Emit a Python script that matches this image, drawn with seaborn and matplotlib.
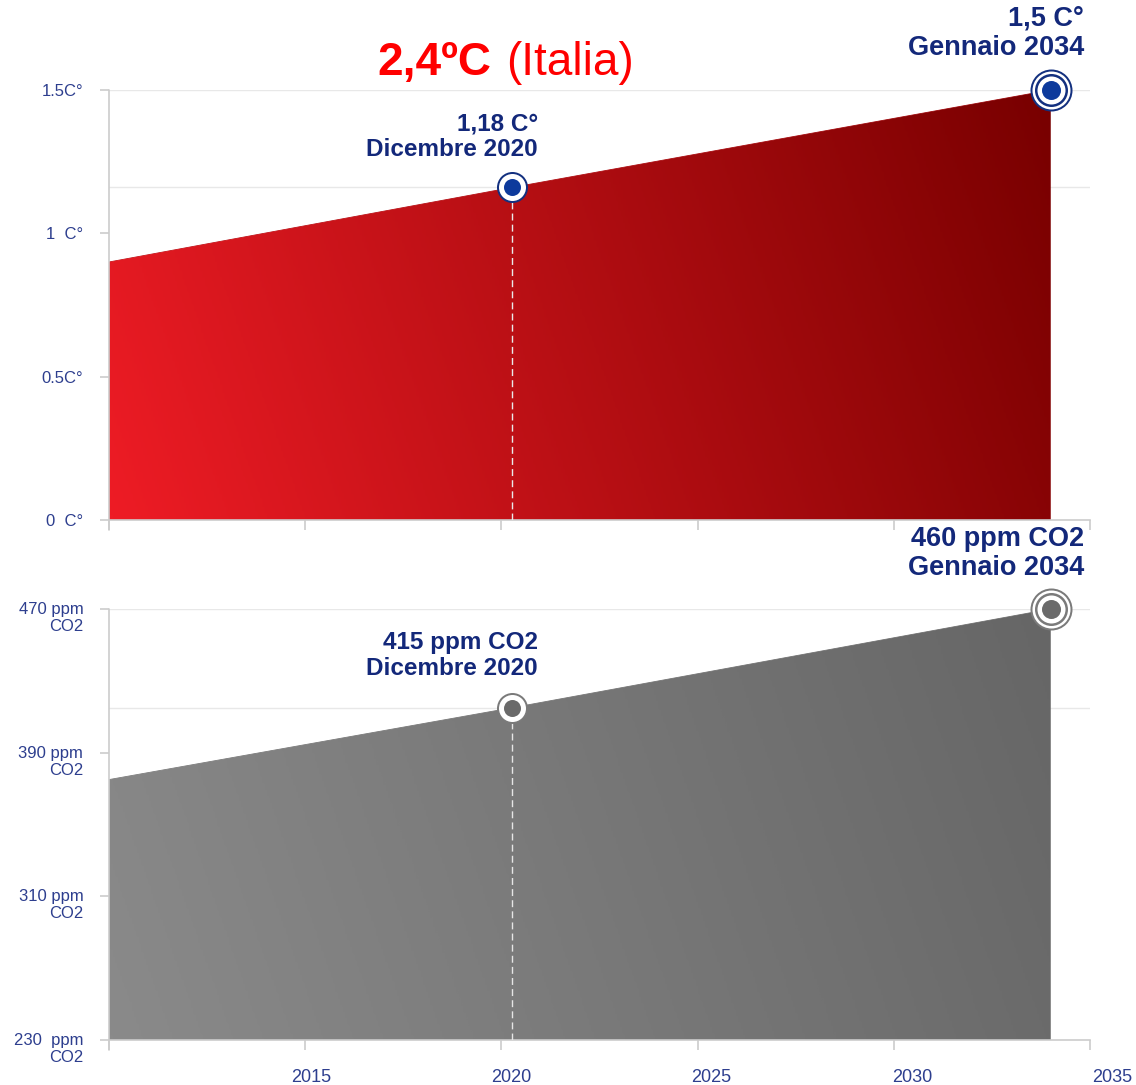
import numpy as np
import pandas as pd
import matplotlib
matplotlib.use("Agg")
import matplotlib.pyplot as plt
import seaborn as sns
from matplotlib.colors import LinearSegmentedColormap
from matplotlib.transforms import ScaledTranslation
from matplotlib.lines import Line2D

# ---------------- data ----------------
years = [2010.0, 2020.27, 2034.0]
temp_values = [0.90, 1.16, 1.50]
co2_values = [375, 415, 470]
temp_labels = ["1,18 C°\nDicembre 2020", "1,5 C°\nGennaio 2034"]
co2_labels = ["415 ppm CO2\nDicembre 2020", "460 ppm CO2\nGennaio 2034"]
temp_ticks = [0, 0.5, 1.0, 1.5]
temp_ticklabels = ["0  C°", "0.5C°", "1  C°", "1.5C°"]
co2_ticks = [230, 310, 390, 470]
co2_ticklabels = ["230  ppm\nCO2", "310 ppm\nCO2", "390 ppm\nCO2", "470 ppm\nCO2"]
year_ticks = [2010, 2015, 2020, 2025, 2030, 2035]
year_ticklabels = ["", "2015", "2020", "2025", "2030", "2035"]
title_bold = "2,4ºC"
title_regular = "(Italia)"

# ---------------- style ----------------
sns.set_theme(style="white")
plt.rcParams['font.family'] = ['Liberation Sans', 'DejaVu Sans']

NAVY = '#13287a'
LABEL = '#2d3e8e'
AXC = '#cccccc'

W, H = 1136, 1085
fig = plt.figure(figsize=(W / 100, H / 100), dpi=100)
fig.patch.set_facecolor('white')

ax_t = fig.add_axes([109 / W, 1 - 520 / H, 981 / W, 430 / H])
ax_b = fig.add_axes([109 / W, 1 - 1040 / H, 981 / W, 431 / H])


def px_offset(dx_px, dy_px):
    return ScaledTranslation(dx_px / 100, dy_px / 100, fig.dpi_scale_trans)


def draw_panel(ax, values, ylim, ticks, ticklabels, c_start, c_end, edge_col,
               ring_col, dot_col, labels, label_sizes, offsets, dash_col,
               show_xlabels, multiline):
    df = pd.DataFrame({'year': years, 'value': values})
    ax.set_xlim(2010, 2035)
    ax.set_ylim(*ylim)

    # horizontal reference lines at highlighted values
    for v in values[1:]:
        ax.axhline(v, color='#e8e8e8', lw=1, zorder=0)

    # area with gradient
    poly = ax.fill_between(df['year'], df['value'], ylim[0], color='none', lw=0, zorder=1)
    clip_path = poly.get_paths()[0]
    nx, ny = 400, 200
    u = np.linspace(0, 1, nx)[None, :]
    v = np.linspace(0, 1, ny)[:, None]
    t = (u * 941 + 0.35 * v * 430) / (941 + 0.35 * 430)
    cmap = LinearSegmentedColormap.from_list('g', [c_start, c_end])
    im = ax.imshow(t, cmap=cmap, vmin=0, vmax=1, origin='lower', aspect='auto',
                   extent=[df['year'].iloc[0], df['year'].iloc[-1], ylim[0], ylim[1]],
                   interpolation='bilinear', zorder=2)
    im.set_clip_path(clip_path, ax.transData)

    sns.lineplot(data=df, x='year', y='value', ax=ax, color=edge_col, lw=0.6,
                 zorder=1.5, legend=False)
    ax.set_xlim(2010, 2035)
    ax.set_ylim(*ylim)
    ax.set_xlabel('')
    ax.set_ylabel('')

    # dashed drop line
    ax.plot([df['year'].iloc[1]] * 2, [ylim[0], df['value'].iloc[1]],
            ls=(0, (5, 3)), color=dash_col, lw=1, zorder=4)

    # markers
    k = 1 / 1.3889
    x1, y1 = df['year'].iloc[1], df['value'].iloc[1]
    for d, c in [(31, ring_col), (27, 'white'), (17, dot_col)]:
        ax.scatter([x1], [y1], s=(d * k) ** 2, color=c, lw=0, zorder=5, clip_on=False)
    x2, y2 = df['year'].iloc[2], df['value'].iloc[2]
    for d, c in [(42, ring_col), (38, 'white'), (33, ring_col), (28, 'white'), (19, dot_col)]:
        ax.scatter([x2], [y2], s=(d * k) ** 2, color=c, lw=0, zorder=5, clip_on=False)

    # annotations (offset = last-line baseline above the point)
    for (xx, yy), lab, fs, (dx, dy) in zip([(x1, y1), (x2, y2)], labels, label_sizes, offsets):
        ax.annotate(lab, xy=(xx, yy), xytext=(dx, dy), textcoords='offset pixels',
                    ha='right', va='baseline', fontsize=fs, fontweight='bold',
                    color=NAVY, linespacing=1.15, annotation_clip=False)

    # spines
    for s in ['top', 'right', 'left']:
        ax.spines[s].set_visible(False)
    ax.spines['bottom'].set_color(AXC)
    ax.spines['bottom'].set_linewidth(1.2)
    ax.add_line(Line2D([0, 0], [-10 / 430, 1], transform=ax.transAxes, color=AXC,
                       lw=1.2, clip_on=False, zorder=6))

    ax.set_xticks(year_ticks)
    ax.set_xticklabels(year_ticklabels)
    ax.tick_params(axis='x', direction='out', length=7.2, width=1.2, color=AXC,
                   labelsize=13, labelcolor=LABEL, pad=13, bottom=True,
                   labelbottom=show_xlabels)
    if show_xlabels:
        for lab, yr in zip(ax.get_xticklabels(), year_ticks):
            dx = 6 + (yr - 2015) * 0.8
            lab.set_transform(lab.get_transform() + px_offset(dx, -1))

    ax.set_yticks(ticks)
    ax.set_yticklabels(ticklabels)
    ax.tick_params(axis='y', direction='out', length=6.5, width=1.2, color=AXC,
                   labelsize=12, labelcolor=LABEL, pad=12, left=True)
    if multiline:
        for lab in ax.get_yticklabels():
            lab.set_verticalalignment('center')
            lab.set_linespacing(1.15)
            lab.set_transform(lab.get_transform() + px_offset(0, -9))
    ax.grid(False)
    ax.set_facecolor('none')


draw_panel(ax_t, temp_values, (0, 1.5), temp_ticks, temp_ticklabels,
           '#ee1c25', '#780000', '#b01015', '#13307f', '#0d3a9c',
           temp_labels, [17.5, 19.5], [(26, 31), (33, 35)], '#eaeaea',
           show_xlabels=False, multiline=False)

draw_panel(ax_b, co2_values, (230, 470), co2_ticks, co2_ticklabels,
           '#8a8a8a', '#666666', '#777777', '#7a7a7a', '#6a6a6a',
           co2_labels, [17.5, 19.5], [(26, 33), (33, 34)], '#e6e6e6',
           show_xlabels=True, multiline=True)

# title
fig.text(377 / W, 1 - 75 / H, title_bold, fontsize=33, fontweight='bold',
         color='#ff0000', ha='left', va='baseline')
fig.text(634 / W, 1 - 75 / H, title_regular, fontsize=33, color='#ff0000',
         ha='right', va='baseline')

fig.savefig('out.png', dpi=100, facecolor='white')
